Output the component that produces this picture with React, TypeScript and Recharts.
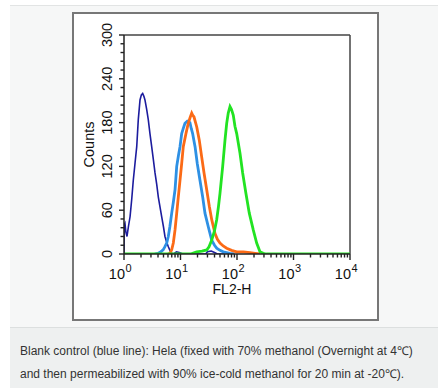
import { LineChart, Line, XAxis, YAxis, ReferenceLine } from 'recharts'

// FL2-H (log) / Counts
const blankControl = [
  { x: 1.0, y: 0 }, { x: 1.01, y: 40 }, { x: 1.04, y: 42 }, { x: 1.08, y: 30 },
  { x: 1.13, y: 24 }, { x: 1.2, y: 38 }, { x: 1.28, y: 51 }, { x: 1.37, y: 75 },
  { x: 1.46, y: 101 }, { x: 1.57, y: 125 }, { x: 1.68, y: 147 }, { x: 1.79, y: 184 },
  { x: 1.92, y: 211 }, { x: 2.03, y: 218 }, { x: 2.14, y: 220 }, { x: 2.25, y: 216 },
  { x: 2.35, y: 211 }, { x: 2.52, y: 198 }, { x: 2.69, y: 184 }, { x: 2.88, y: 165 },
  { x: 3.09, y: 147 }, { x: 3.3, y: 130 }, { x: 3.54, y: 111 }, { x: 3.8, y: 95 },
  { x: 4.05, y: 78 }, { x: 4.35, y: 64 }, { x: 4.65, y: 51 }, { x: 5.0, y: 37 },
  { x: 5.31, y: 24 }, { x: 5.7, y: 16 }, { x: 6.09, y: 10 }, { x: 6.5, y: 5 },
  { x: 6.98, y: 1 }, { x: 7.5, y: 0 }, { x: 8.5, y: 3 }, { x: 9.5, y: 2 },
  { x: 11, y: 0 }, { x: 28, y: 0 }, { x: 30, y: 3 }, { x: 35, y: 4 },
  { x: 40, y: 2 }, { x: 45, y: 0 }, { x: 60, y: 0 },
]

const lightBlue = [
  { x: 3.5, y: 0 }, { x: 4.05, y: 1 }, { x: 4.5, y: 3 }, { x: 4.96, y: 6 },
  { x: 5.3, y: 10 }, { x: 5.7, y: 15 }, { x: 6.08, y: 24 }, { x: 6.5, y: 38 },
  { x: 6.99, y: 56 }, { x: 7.5, y: 72 }, { x: 8.0, y: 88 }, { x: 8.57, y: 120 },
  { x: 9.2, y: 135 }, { x: 9.8, y: 147 }, { x: 10.5, y: 165 }, { x: 11.2, y: 172 },
  { x: 12.0, y: 179 }, { x: 13.2, y: 182 }, { x: 14.7, y: 180 }, { x: 15.5, y: 172 },
  { x: 16.4, y: 165 }, { x: 17.2, y: 156 }, { x: 18.1, y: 147 }, { x: 19.8, y: 124 },
  { x: 22.1, y: 101 }, { x: 24.7, y: 78 }, { x: 27.1, y: 56 }, { x: 31.1, y: 37 },
  { x: 35.7, y: 19 }, { x: 40, y: 12 }, { x: 43.7, y: 8 }, { x: 50, y: 5 },
  { x: 57.2, y: 3 }, { x: 75, y: 1 }, { x: 90, y: 0 },
]

const orange = [
  { x: 6, y: 0 }, { x: 6.52, y: 1 }, { x: 7.0, y: 6 }, { x: 7.46, y: 15 },
  { x: 8.0, y: 33 }, { x: 8.57, y: 56 }, { x: 9.14, y: 78 }, { x: 9.8, y: 101 },
  { x: 10.5, y: 124 }, { x: 11.2, y: 147 }, { x: 12.5, y: 165 }, { x: 13.7, y: 179 },
  { x: 14.8, y: 187 }, { x: 15.8, y: 193 }, { x: 16.5, y: 190 }, { x: 17.3, y: 188 },
  { x: 19.4, y: 174 }, { x: 21.5, y: 156 }, { x: 23.7, y: 133 }, { x: 26.1, y: 111 },
  { x: 29.1, y: 88 }, { x: 32.4, y: 65 }, { x: 35.7, y: 47 }, { x: 40.8, y: 28 },
  { x: 45, y: 20 }, { x: 50, y: 15 }, { x: 57, y: 11 }, { x: 65.7, y: 8 },
  { x: 80, y: 5 }, { x: 98.8, y: 3 }, { x: 130, y: 3 }, { x: 170, y: 2 },
  { x: 210, y: 1 }, { x: 255, y: 0 },
]

const green = [
  { x: 1, y: 0 }, { x: 15, y: 0 }, { x: 19.4, y: 3 }, { x: 24, y: 4 },
  { x: 29.1, y: 5.5 }, { x: 32, y: 10 }, { x: 35.7, y: 19 }, { x: 40, y: 32 },
  { x: 43.7, y: 47 }, { x: 47, y: 65 }, { x: 50, y: 83 }, { x: 55.8, y: 120 },
  { x: 61.3, y: 156 }, { x: 65.7, y: 179 }, { x: 70, y: 193 }, { x: 75.2, y: 202 },
  { x: 80, y: 198 }, { x: 86, y: 190 }, { x: 92, y: 175 }, { x: 98.8, y: 165 },
  { x: 113, y: 138 }, { x: 126, y: 111 }, { x: 144, y: 83 }, { x: 165, y: 56 },
  { x: 194, y: 33 }, { x: 223, y: 15 }, { x: 255, y: 3 }, { x: 292, y: 1 },
  { x: 330, y: 0 }, { x: 10000, y: 0 },
]

const xTicks = [
  1, 2, 3, 4, 5, 6, 7, 8, 9,
  10, 20, 30, 40, 50, 60, 70, 80, 90,
  100, 200, 300, 400, 500, 600, 700, 800, 900,
  1000, 2000, 3000, 4000, 5000, 6000, 7000, 8000, 9000,
  10000,
]
const xDecades = [1, 10, 100, 1000, 10000]
const xExponents = ['0', '1', '2', '3', '4']

const yTicks = [
  0, 12, 24, 36, 48, 60, 72, 84, 96, 108, 120, 132, 144,
  156, 168, 180, 192, 204, 216, 228, 240, 252, 264, 276, 288, 300,
]
const yLabels = [0, 60, 120, 180, 240, 300]

const FONT = '"Liberation Sans", Arial, Helvetica, sans-serif'
const AXIS = '#222'

function XTick(props: any) {
  const { x, y, payload } = props
  const i = xDecades.indexOf(payload.value)
  const major = i >= 0
  return (
    <g>
      <line x1={x} x2={x} y1={y} y2={y + (major ? 6 : 3.5)} stroke={AXIS} strokeWidth={1.4} />
      {major && (
        <g fontFamily={FONT} fill="#111">
          <text x={x + 1} y={y + 25} textAnchor="end" fontSize={14.5}>10</text>
          <text x={x + 1.5} y={y + 18} textAnchor="start" fontSize={11}>{xExponents[i]}</text>
        </g>
      )}
    </g>
  )
}

function YTick(props: any) {
  const { x, y, payload } = props
  const major = yLabels.includes(payload.value)
  return (
    <g>
      <line x1={x} x2={x - (major ? 5 : 3.5)} y1={y} y2={y} stroke={AXIS} strokeWidth={1.4} />
      {major && (
        <text
          transform={`translate(${x - 17},${y}) rotate(-90)`}
          textAnchor="middle"
          dy="0.36em"
          fontFamily={FONT}
          fontSize={14.5}
          fill="#111"
        >
          {payload.value}
        </text>
      )}
    </g>
  )
}

function CountsLabel(props: any) {
  const { viewBox } = props
  const cx = viewBox.x + viewBox.width - 35
  const cy = viewBox.y + viewBox.height / 2
  return (
    <text
      transform={`translate(${cx},${cy}) rotate(-90)`}
      textAnchor="middle"
      dy="0.36em"
      fontFamily={FONT}
      fontSize={14.5}
      fill="#111"
    >
      Counts
    </text>
  )
}

function FlLabel(props: any) {
  const { viewBox } = props
  return (
    <text x={viewBox.x + viewBox.width / 2 - 5} y={viewBox.y + 40} textAnchor="middle" fontFamily={FONT} fontSize={14} fill="#111">
      FL2-H
    </text>
  )
}

export default function App() {
  return (
    <div style={{ position: 'absolute', left: 0, top: 0, width: 438, height: 388, background: '#fff', overflow: 'hidden' }}>
      <div style={{ position: 'absolute', left: 10, top: 5, width: 440, height: 322, background: '#f6f7f7', borderTop: '1px solid #e2e4e4' }} />
      <div style={{ position: 'absolute', left: 10, top: 327, width: 440, height: 61, background: '#eef0f0', borderTop: '1px solid #dcdfdf' }} />
      <div style={{ position: 'absolute', left: 72, top: 12, width: 303, height: 305, background: '#fff', border: '2px solid #777' }} />
      <div
        style={{
          position: 'absolute', left: 20, top: 340, width: 418,
          fontFamily: FONT, fontSize: 12, lineHeight: '23px', color: '#333',
        }}
      >
        Blank control (blue line): Hela (fixed with 70% methanol (Overnight at 4℃)
        <br />
        and then permeabilized with 90% ice-cold methanol for 20 min at -20℃).
      </div>
      <div style={{ position: 'absolute', left: 0, top: 0 }}>
        <LineChart width={438} height={328} margin={{ top: 35, right: 88, left: 74, bottom: 34 }}>
          <XAxis
            type="number"
            dataKey="x"
            scale="log"
            domain={[1, 10000]}
            allowDataOverflow
            ticks={xTicks}
            interval={0}
            height={40}
            tickSize={0}
            tickMargin={0}
            tickLine={false}
            tick={<XTick />}
            axisLine={{ stroke: AXIS, strokeWidth: 1.5 }}
            label={<FlLabel />}
          />
          <YAxis
            type="number"
            dataKey="y"
            domain={[0, 300]}
            allowDataOverflow
            ticks={yTicks}
            interval={0}
            width={50}
            tickSize={0}
            tickMargin={0}
            tickLine={false}
            tick={<YTick />}
            axisLine={{ stroke: AXIS, strokeWidth: 1.5 }}
            label={<CountsLabel />}
          />
          <ReferenceLine y={300} stroke="#444" strokeWidth={1.5} />
          <ReferenceLine x={10000} stroke="#444" strokeWidth={1.5} />
          <Line data={blankControl} dataKey="y" type="linear" stroke="#1c1c9e" strokeWidth={1.6} dot={false} isAnimationActive={false} />
          <Line data={lightBlue} dataKey="y" type="linear" stroke="#2e90e4" strokeWidth={2.8} dot={false} isAnimationActive={false} />
          <Line data={orange} dataKey="y" type="linear" stroke="#fb6a16" strokeWidth={2.8} dot={false} isAnimationActive={false} />
          <Line data={green} dataKey="y" type="linear" stroke="#22e322" strokeWidth={2.8} dot={false} isAnimationActive={false} />
        </LineChart>
      </div>
    </div>
  )
}
